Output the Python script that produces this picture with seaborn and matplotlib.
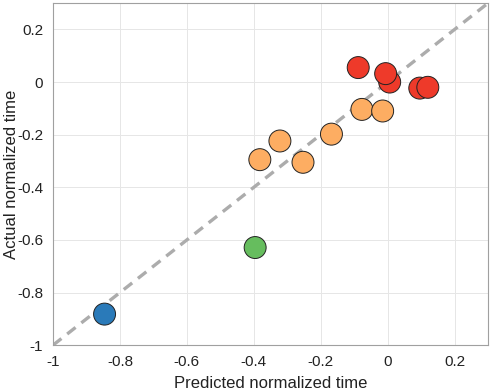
import matplotlib
matplotlib.use('Agg')
import matplotlib.pyplot as plt
import seaborn as sns
import pandas as pd

# predicted vs actual normalized time
pred = [-0.846, -0.396,
        -0.382, -0.322, -0.253, -0.168, -0.077, -0.015,
        -0.088, 0.006, -0.006, 0.096, 0.120]
actual = [-0.882, -0.629,
          -0.295, -0.224, -0.305, -0.198, -0.104, -0.110,
          0.055, 0.000, 0.032, -0.023, -0.020]
group = ['blue', 'green',
         'orange', 'orange', 'orange', 'orange', 'orange', 'orange',
         'red', 'red', 'red', 'red', 'red']
colors = {'blue': '#2a7ab9', 'green': '#66bd5e', 'orange': '#fdad62', 'red': '#ee3a2a'}
diag = [-1, 0.3]
ticks = [-1, -0.8, -0.6, -0.4, -0.2, 0, 0.2]
tick_labels = ['-1', '-0.8', '-0.6', '-0.4', '-0.2', '0', '0.2']

df = pd.DataFrame({'pred': pred, 'actual': actual, 'group': group})

sns.set_style('whitegrid')
plt.rcParams['font.family'] = ['Liberation Sans', 'DejaVu Sans']

fig = plt.figure(figsize=(4.91, 3.90), dpi=100)
ax = fig.add_axes([0.108, 0.115, 0.886, 0.877])

ax.plot(diag, diag, ls=(0, (3.2, 2.2)), color='#acacac', lw=2.4, zorder=1)
sns.scatterplot(data=df, x='pred', y='actual', hue='group', palette=colors,
                s=250, edgecolor='#222222', linewidth=0.7, legend=False,
                zorder=3, ax=ax)

ax.set_xlim(-1, 0.3)
ax.set_ylim(-1, 0.3)
ax.set_xticks(ticks)
ax.set_xticklabels(tick_labels)
ax.set_yticks(ticks)
ax.set_yticklabels(tick_labels)
ax.grid(True, color='#e6e6e6', lw=0.7)
for sp in ax.spines.values():
    sp.set_color('#a0a0a0')
    sp.set_linewidth(0.8)
ax.tick_params(labelsize=11, colors='#a0a0a0', labelcolor='#222222',
               direction='in', length=3)
ax.tick_params(axis='x', pad=7)
ax.tick_params(axis='y', pad=7)
ax.set_xlabel('Predicted normalized time', fontsize=12, color='#222222', labelpad=5)
ax.set_ylabel('Actual normalized time', fontsize=12, color='#222222', labelpad=-1)

fig.savefig('out.png', dpi=100)
